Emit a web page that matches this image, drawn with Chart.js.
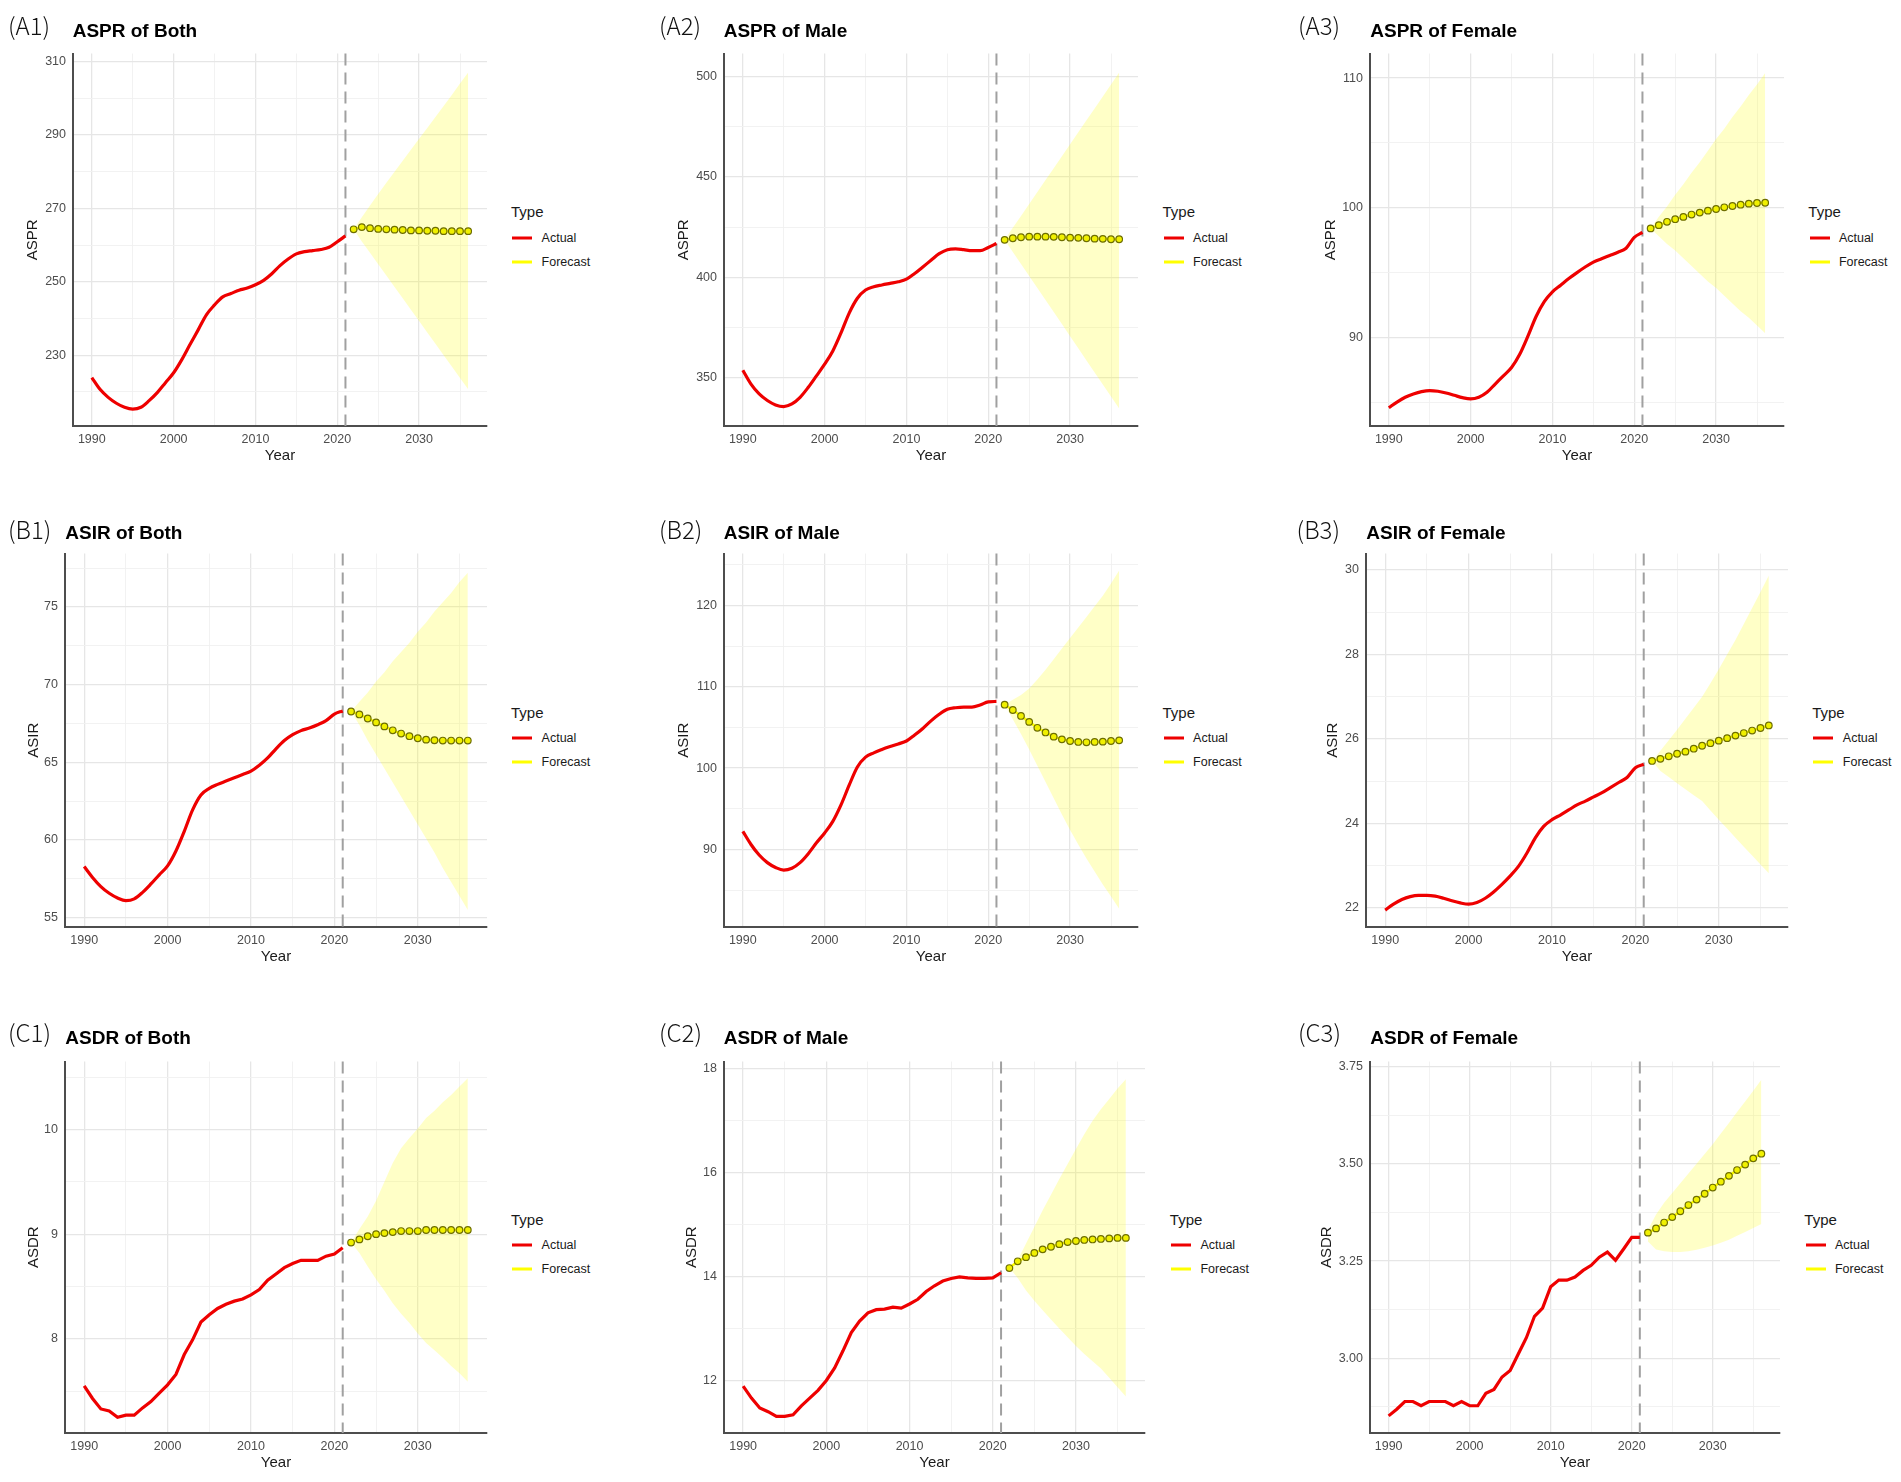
<!DOCTYPE html>
<html>
<head>
<meta charset="utf-8">
<script src="https://cdn.jsdelivr.net/npm/chart.js@4.4.0/dist/chart.umd.min.js"></script>
<style>
  body { margin: 0; background: #fff; }
  #fig { position: relative; width: 1901px; height: 1482px; background: #fff; overflow: hidden;
         font-family: "Liberation Sans", Arial, sans-serif; }
  canvas { position: absolute; }
  .tag { position: absolute; font-family: "Noto Sans CJK SC", sans-serif; font-size: 24px; font-weight: 300; line-height: 1;
         transform: translateY(-50%); color: #111; white-space: nowrap; }
  .ttl { position: absolute; font-weight: bold; font-size: 19px; line-height: 1;
         transform: translateY(-50%); color: #000; white-space: nowrap; }
  .lg { position: absolute; font-size: 12.5px; line-height: 1; color: #1a1a1a;
        transform: translateY(-50%); white-space: nowrap; }
  .lgT { font-size: 15px; }
  .key { position: absolute; width: 20px; height: 3px; transform: translateY(-50%); }
</style>
</head>
<body>
<div id="fig"></div>
<script>
// years
const actualYears = [1990,1991,1992,1993,1994,1995,1996,1997,1998,1999,2000,2001,2002,2003,2004,2005,
                     2006,2007,2008,2009,2010,2011,2012,2013,2014,2015,2016,2017,2018,2019,2020,2021];
const forecastYears = [2022,2023,2024,2025,2026,2027,2028,2029,2030,2031,2032,2033,2034,2035,2036];
const cutYear = 2021;
const xRange = [1987.7, 2038.3];
const xTicks = [1990,1995,2000,2005,2010,2015,2020,2025,2030,2035];
const xLabelled = [1990,2000,2010,2020,2030];

// ASPR of Both
const asprBothActual = [223.9,220.7,218.5,216.9,215.8,215.3,215.8,217.6,219.8,222.5,225.2,228.8,232.9,236.9,241.0,243.7,
                        245.9,246.8,247.7,248.3,249.2,250.4,252.2,254.4,256.2,257.6,258.2,258.5,258.8,259.4,260.9,262.5];
const asprBothForecast = [264.3,264.9,264.6,264.4,264.3,264.2,264.1,264.0,264.0,263.9,263.9,263.8,263.8,263.8,263.8];
const asprBothUpper = [264.3,267.6,270.8,273.9,277.0,280.0,283.0,286.0,289.0,291.9,294.9,297.9,300.9,304.0,307.0];
const asprBothLower = [264.3,261.0,257.9,254.8,251.7,248.6,245.5,242.4,239.3,236.2,233.1,230.0,226.9,223.8,220.7];
const asprBothY = [210.7, 312.2];
const asprBothTicks = [230,250,270,290,310];
const asprBothMinor = [220,240,260,280,300];

// ASPR of Male
const asprMaleActual = [353.6,346.7,341.8,338.5,336.3,335.5,336.8,340.1,345.1,350.8,356.6,363.2,372.2,382.1,389.5,393.6,
                        395.2,396.1,396.9,397.7,399.0,401.8,405.1,408.4,411.7,413.7,414.1,413.7,413.2,413.2,414.8,416.8];
const asprMaleForecast = [418.6,419.4,419.9,420.2,420.2,420.2,420.1,419.9,419.7,419.6,419.4,419.2,419.1,418.9,418.9];
const asprMaleUpper = [418.6,424.6,430.5,436.5,442.4,448.4,454.3,460.3,466.3,472.2,478.2,484.1,490.1,496.0,502.0];
const asprMaleLower = [418.6,412.6,406.6,400.6,394.6,388.6,382.6,376.6,370.6,364.5,358.5,352.5,346.5,340.5,334.5];
const asprMaleY = [325.8, 511.5];
const asprMaleTicks = [350,400,450,500];
const asprMaleMinor = [375,425,475];

// ASPR of Female
const asprFemaleActual = [84.56,85.0,85.37,85.62,85.8,85.88,85.83,85.7,85.52,85.34,85.24,85.37,85.75,86.39,87.02,87.66,
                          88.68,90.08,91.6,92.75,93.51,94.02,94.53,94.99,95.42,95.8,96.06,96.31,96.56,96.87,97.71,98.09];
const asprFemaleForecast = [98.40,98.65,98.91,99.11,99.29,99.47,99.62,99.77,99.90,100.03,100.13,100.23,100.31,100.36,100.38];
const asprFemaleUpper = [98.4,99.3,100.1,101.0,101.8,102.7,103.5,104.4,105.3,106.1,107.0,107.8,108.7,109.5,110.4];
const asprFemaleLower = [98.4,97.8,97.2,96.7,96.1,95.5,94.9,94.3,93.8,93.2,92.6,92.0,91.5,90.9,90.3];
const asprFemaleY = [83.15, 111.9];
const asprFemaleTicks = [90,100,110];
const asprFemaleMinor = [85,95,105];

// ASIR of Both
const asirBothActual = [58.29,57.59,57.0,56.57,56.27,56.1,56.21,56.63,57.17,57.76,58.33,59.29,60.56,61.94,62.9,63.32,
                        63.58,63.79,64.0,64.21,64.43,64.81,65.28,65.87,66.4,66.78,67.04,67.21,67.42,67.68,68.1,68.31];
const asirBothForecast = [68.27,68.08,67.82,67.57,67.31,67.06,66.85,66.68,66.55,66.46,66.42,66.40,66.40,66.40,66.40];
const asirBothUpper = [68.27,68.9,69.5,70.2,70.8,71.5,72.1,72.7,73.4,74.0,74.7,75.3,75.9,76.6,77.2];
const asirBothLower = [68.27,67.4,66.4,65.5,64.6,63.7,62.8,61.9,61.0,60.1,59.2,58.2,57.3,56.4,55.5];
const asirBothY = [54.4, 78.44];
const asirBothTicks = [55,60,65,70,75];
const asirBothMinor = [57.5,62.5,67.5,72.5,77.5];

// ASIR of Male
const asirMaleActual = [92.23,90.61,89.31,88.38,87.78,87.45,87.69,88.38,89.48,90.81,92.03,93.45,95.48,97.91,100.14,101.35,
                        101.88,102.29,102.65,102.98,103.34,104.07,104.88,105.81,106.62,107.23,107.43,107.51,107.51,107.76,108.16,108.2];
const asirMaleForecast = [107.8,107.15,106.42,105.69,104.96,104.39,103.87,103.54,103.34,103.22,103.18,103.22,103.26,103.34,103.42];
const asirMaleUpper = [107.8,108.4,109.0,109.8,110.9,112.1,113.4,114.7,116.0,117.3,118.6,119.9,121.2,122.7,124.3];
const asirMaleLower = [107.8,106.0,104.2,102.3,100.3,98.3,96.3,94.3,92.4,90.6,88.9,87.3,85.7,84.2,82.7];
const asirMaleY = [80.46, 126.4];
const asirMaleTicks = [90,100,110,120];
const asirMaleMinor = [85,95,105,115,125];

// ASIR of Female
const asirFemaleActual = [21.95,22.09,22.2,22.27,22.3,22.3,22.28,22.23,22.17,22.12,22.09,22.13,22.23,22.38,22.56,22.76,
                          22.99,23.3,23.66,23.93,24.09,24.2,24.32,24.44,24.53,24.63,24.73,24.85,24.97,25.09,25.32,25.4];
const asirFemaleForecast = [25.48,25.53,25.59,25.65,25.70,25.77,25.84,25.90,25.96,26.02,26.08,26.14,26.20,26.26,26.32];
const asirFemaleUpper = [25.48,25.72,25.97,26.22,26.48,26.74,27.0,27.32,27.65,28.0,28.34,28.72,29.1,29.48,29.87];
const asirFemaleLower = [25.48,25.24,25.1,24.95,24.81,24.67,24.53,24.31,24.09,23.88,23.66,23.45,23.24,23.03,22.82];
const asirFemaleY = [21.55, 30.39];
const asirFemaleTicks = [22,24,26,28,30];
const asirFemaleMinor = [23,25,27,29];

// ASDR of Both
const asdrBothActual = [7.55,7.43,7.33,7.31,7.25,7.27,7.27,7.34,7.40,7.48,7.56,7.66,7.85,7.99,8.16,8.23,
                        8.29,8.33,8.36,8.38,8.42,8.47,8.56,8.62,8.68,8.72,8.75,8.75,8.75,8.79,8.81,8.87];
const asdrBothForecast = [8.92,8.95,8.98,9.00,9.01,9.02,9.03,9.03,9.03,9.04,9.04,9.04,9.04,9.04,9.04];
const asdrBothUpper = [8.92,9.05,9.17,9.32,9.50,9.68,9.82,9.92,10.01,10.11,10.18,10.26,10.33,10.41,10.49];
const asdrBothLower = [8.92,8.82,8.69,8.57,8.46,8.34,8.24,8.15,8.05,7.96,7.89,7.82,7.74,7.67,7.59];
const asdrBothY = [7.1, 10.65];
const asdrBothTicks = [8,9,10];
const asdrBothMinor = [7.5,8.5,9.5,10.5];

// ASDR of Male
const asdrMaleActual = [11.9,11.67,11.48,11.41,11.32,11.32,11.35,11.52,11.67,11.82,12.01,12.25,12.58,12.93,13.15,13.31,
                        13.37,13.38,13.42,13.40,13.48,13.57,13.72,13.83,13.92,13.97,14.0,13.98,13.97,13.97,13.98,14.08];
const asdrMaleForecast = [14.17,14.30,14.38,14.46,14.53,14.58,14.63,14.67,14.69,14.71,14.72,14.73,14.74,14.75,14.75];
const asdrMaleUpper = [14.17,14.32,14.64,14.96,15.28,15.58,15.88,16.17,16.46,16.74,17.0,17.22,17.42,17.62,17.8];
const asdrMaleLower = [14.17,13.98,13.74,13.54,13.36,13.18,13.01,12.84,12.67,12.52,12.38,12.24,12.06,11.88,11.7];
const asdrMaleY = [11.0, 18.14];
const asdrMaleTicks = [12,14,16,18];
const asdrMaleMinor = [13,15,17];

// ASDR of Female
const asdrFemaleActual = [2.852,2.869,2.889,2.889,2.878,2.889,2.889,2.889,2.878,2.889,2.878,2.878,2.91,2.92,2.952,2.969,
                          3.011,3.053,3.108,3.129,3.184,3.201,3.201,3.209,3.226,3.239,3.26,3.273,3.252,3.281,3.311,3.311];
const asdrFemaleForecast = [3.323,3.334,3.349,3.363,3.378,3.394,3.408,3.423,3.439,3.454,3.469,3.484,3.498,3.514,3.526];
const asdrFemaleUpper = [3.33,3.37,3.40,3.425,3.45,3.475,3.5,3.525,3.55,3.578,3.605,3.633,3.66,3.688,3.716];
const asdrFemaleLower = [3.30,3.28,3.275,3.273,3.273,3.275,3.279,3.284,3.29,3.297,3.305,3.315,3.325,3.335,3.345];
const asdrFemaleY = [2.808, 3.763];
const asdrFemaleTicks = [3.0,3.25,3.5,3.75];
const asdrFemaleMinor = [2.875,3.125,3.375,3.625];

// panel layout: box = [left, top, right, bottom] of the plotting area
const panels = [
  {tag:'(A1)', title:'ASPR of Both', yTitle:'ASPR', act:asprBothActual, fc:asprBothForecast, up:asprBothUpper, lo:asprBothLower,
   yr:asprBothY, ticks:asprBothTicks, minor:asprBothMinor, dec:0, smooth:true, box:[72.7,49.3,486.5,425.7], tagX:8, tagY:25, titleY:30, gap:40.5},
  {tag:'(A2)', title:'ASPR of Male', yTitle:'ASPR', act:asprMaleActual, fc:asprMaleForecast, up:asprMaleUpper, lo:asprMaleLower,
   yr:asprMaleY, ticks:asprMaleTicks, minor:asprMaleMinor, dec:0, smooth:true, box:[723.7,49.3,1138,425.7], tagX:659, tagY:25, titleY:30, gap:40.5},
  {tag:'(A3)', title:'ASPR of Female', yTitle:'ASPR', act:asprFemaleActual, fc:asprFemaleForecast, up:asprFemaleUpper, lo:asprFemaleLower,
   yr:asprFemaleY, ticks:asprFemaleTicks, minor:asprFemaleMinor, dec:0, smooth:true, box:[1370.3,49.3,1783.8,425.7], tagX:1298, tagY:25, titleY:30, gap:39.6},
  {tag:'(B1)', title:'ASIR of Both', yTitle:'ASIR', act:asirBothActual, fc:asirBothForecast, up:asirBothUpper, lo:asirBothLower,
   yr:asirBothY, ticks:asirBothTicks, minor:asirBothMinor, dec:0, smooth:true, box:[65.3,549.3,486.5,926.7], tagX:8, tagY:529.3, titleY:531.7, gap:31.5},
  {tag:'(B2)', title:'ASIR of Male', yTitle:'ASIR', act:asirMaleActual, fc:asirMaleForecast, up:asirMaleUpper, lo:asirMaleLower,
   yr:asirMaleY, ticks:asirMaleTicks, minor:asirMaleMinor, dec:0, smooth:true, box:[723.7,549.3,1138,926.7], tagX:659, tagY:529.3, titleY:531.7, gap:40.5},
  {tag:'(B3)', title:'ASIR of Female', yTitle:'ASIR', act:asirFemaleActual, fc:asirFemaleForecast, up:asirFemaleUpper, lo:asirFemaleLower,
   yr:asirFemaleY, ticks:asirFemaleTicks, minor:asirFemaleMinor, dec:0, smooth:true, box:[1366.3,549.3,1787.7,926.7], tagX:1296.6, tagY:529.3, titleY:531.7, gap:32.8},
  {tag:'(C1)', title:'ASDR of Both', yTitle:'ASDR', act:asdrBothActual, fc:asdrBothForecast, up:asdrBothUpper, lo:asdrBothLower,
   yr:asdrBothY, ticks:asdrBothTicks, minor:asdrBothMinor, dec:0, smooth:false, box:[65.3,1056.7,486.5,1433.3], tagX:8, tagY:1031.7, titleY:1037.3, gap:31.5},
  {tag:'(C2)', title:'ASDR of Male', yTitle:'ASDR', act:asdrMaleActual, fc:asdrMaleForecast, up:asdrMaleUpper, lo:asdrMaleLower,
   yr:asdrMaleY, ticks:asdrMaleTicks, minor:asdrMaleMinor, dec:0, smooth:false, box:[723.7,1056.7,1145.3,1433.3], tagX:659, tagY:1031.7, titleY:1037.3, gap:32.5},
  {tag:'(C3)', title:'ASDR of Female', yTitle:'ASDR', act:asdrFemaleActual, fc:asdrFemaleForecast, up:asdrFemaleUpper, lo:asdrFemaleLower,
   yr:asdrFemaleY, ticks:asdrFemaleTicks, minor:asdrFemaleMinor, dec:2, smooth:false, box:[1370.3,1056.7,1779.8,1433.3], tagX:1298, tagY:1031.7, titleY:1037.3, gap:43.6}
];

Chart.defaults.font.family = "'Liberation Sans', Arial, sans-serif";
const fig = document.getElementById('fig');
const majorGrid = '#e6e6e6', minorGrid = '#f1f1f1';
const axisCol = '#4d4d4d';

const cutLine = {
  id: 'cutLine',
  beforeDatasetsDraw(chart) {
    const {ctx, chartArea, scales} = chart;
    const x = scales.x.getPixelForValue(cutYear);
    ctx.save();
    ctx.strokeStyle = '#a0a0a0';
    ctx.lineWidth = 2;
    ctx.setLineDash([12, 7]);
    ctx.beginPath();
    ctx.moveTo(x, chartArea.top);
    ctx.lineTo(x, chartArea.bottom);
    ctx.stroke();
    ctx.restore();
  }
};

function addDiv(cls, text, x, y) {
  const d = document.createElement('div');
  d.className = cls;
  d.textContent = text;
  d.style.left = x + 'px';
  d.style.top = y + 'px';
  fig.appendChild(d);
  return d;
}

function pts(xs, ys) {
  return xs.map((x, i) => ({x: x, y: ys[i]}));
}

panels.forEach(function(p) {
  const [L, T, R, B] = p.box.map(Math.round);
  const cv = document.createElement('canvas');
  cv.width = (R - L) + 80;
  cv.height = (B - T) + 60;
  cv.style.left = (L - 70) + 'px';
  cv.style.top = (T - 10) + 'px';
  fig.appendChild(cv);

  addDiv('tag', p.tag, p.tagX, p.tagY);
  addDiv('ttl', p.title, p.box[0], p.titleY);

  // legend
  const cy = (p.box[1] + p.box[3]) / 2;
  const lx = p.box[2] + 24.5;
  addDiv('lg lgT', 'Type', lx, cy - 26.5);
  const k1 = addDiv('key', '', lx + 1.2, cy); k1.style.background = '#ee0000';
  const k2 = addDiv('key', '', lx + 1.2, cy + 24); k2.style.background = '#ffff00';
  addDiv('lg', 'Actual', lx + 30.6, cy);
  addDiv('lg', 'Forecast', lx + 30.6, cy + 24);

  const yAll = p.ticks.concat(p.minor).sort((a, b) => a - b);

  new Chart(cv.getContext('2d'), {
    type: 'line',
    data: {
      datasets: [
        {
          label: 'Forecast',
          data: pts(forecastYears, p.fc),
          borderColor: '#ffff00',
          borderWidth: 2.5,
          pointRadius: 3.3,
          pointBackgroundColor: '#f0f000',
          pointBorderColor: '#6e6e00',
          pointBorderWidth: 1.2,
          order: 0
        },
        {
          label: 'Actual',
          data: pts(actualYears, p.act),
          borderColor: '#ee0000',
          borderWidth: 3.2,
          pointRadius: 0,
          cubicInterpolationMode: p.smooth ? 'monotone' : 'default',
          order: 1
        },
        {
          label: 'upper',
          data: pts(forecastYears, p.up),
          borderWidth: 0,
          pointRadius: 0,
          fill: '+1',
          backgroundColor: 'rgba(255,255,0,0.22)',
          order: 2
        },
        {
          label: 'lower',
          data: pts(forecastYears, p.lo),
          borderWidth: 0,
          pointRadius: 0,
          fill: false,
          order: 3
        }
      ]
    },
    options: {
      responsive: false,
      animation: false,
      events: [],
      layout: { padding: { top: 10, right: 10, left: 0, bottom: 0 } },
      plugins: { legend: { display: false }, tooltip: { enabled: false } },
      scales: {
        x: {
          type: 'linear',
          min: xRange[0],
          max: xRange[1],
          afterBuildTicks: function(s) { s.ticks = xTicks.map(v => ({value: v})); },
          afterFit: function(s) { s.height = 50; },
          grid: {
            drawTicks: false,
            color: c => (c.tick && xLabelled.includes(c.tick.value)) ? majorGrid : minorGrid,
            lineWidth: c => (c.tick && xLabelled.includes(c.tick.value)) ? 1.3 : 0.9
          },
          border: { display: true, color: axisCol, width: 2 },
          ticks: {
            autoSkip: false, maxRotation: 0, padding: 6, color: axisCol,
            font: { size: 12.5 },
            callback: v => xLabelled.includes(v) ? String(v) : ''
          },
          title: { display: true, text: 'Year', color: '#1a1a1a', font: { size: 15 }, padding: { top: 0, bottom: 11 } }
        },
        y: {
          min: p.yr[0],
          max: p.yr[1],
          afterBuildTicks: function(s) { s.ticks = yAll.map(v => ({value: v})); },
          afterFit: function(s) { s.width = 70; },
          grid: {
            drawTicks: false,
            color: c => (c.tick && p.ticks.includes(c.tick.value)) ? majorGrid : minorGrid,
            lineWidth: c => (c.tick && p.ticks.includes(c.tick.value)) ? 1.3 : 0.9
          },
          border: { display: true, color: axisCol, width: 2 },
          ticks: {
            autoSkip: false, padding: 7, color: axisCol,
            font: { size: 12.5 },
            callback: v => p.ticks.includes(v) ? v.toFixed(p.dec) : ''
          },
          title: { display: true, text: p.yTitle, color: '#1a1a1a', font: { size: 15 },
                   padding: { top: 70 - p.gap - 9, bottom: 0 } }
        }
      }
    },
    plugins: [cutLine]
  });
});
</script>
</body>
</html>
